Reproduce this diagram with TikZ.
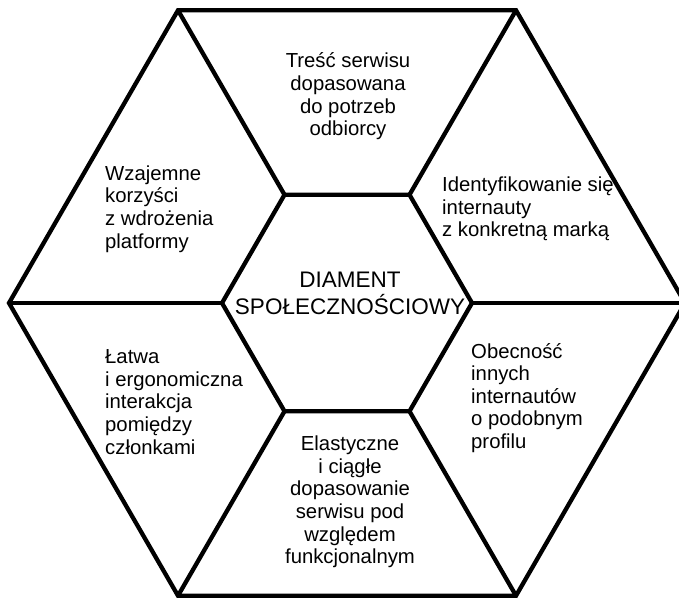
\documentclass[tikz,border=0pt]{standalone}
\usepackage{fontspec}
\setmainfont{Liberation Sans}
\usetikzlibrary{calc, positioning}

\begin{document}
\begin{tikzpicture}[x=1pt,y=-1pt,font=\fontsize{20.3}{22.6}\selectfont,
    hexline/.style={line width=4.3pt,black},
    facet/.style={inner sep=0pt,text=black}]
\def\middlex{347}
\def\middley{303}
\def\outerr{338}
\def\innerr{125}
\pgfmathsetmacro{\outerhalf}{\outerr/2}
\pgfmathsetmacro{\outerh}{\outerr*sin(60)}
\pgfmathsetmacro{\innerhalf}{\innerr/2}
\pgfmathsetmacro{\innerh}{\innerr*sin(60)}
\useasboundingbox (0,0) rectangle (679,600);
\clip (0,0) rectangle (679,600);

\coordinate (OuterLeft) at (\middlex-\outerr,\middley);
\coordinate (OuterTopLeft) at (\middlex-\outerhalf,\middley-\outerh);
\coordinate (OuterTopRight) at (\middlex+\outerhalf,\middley-\outerh);
\coordinate (OuterRight) at (\middlex+\outerr,\middley);
\coordinate (OuterBottomRight) at (\middlex+\outerhalf,\middley+\outerh);
\coordinate (OuterBottomLeft) at (\middlex-\outerhalf,\middley+\outerh);

\coordinate (InnerLeft) at (\middlex-\innerr,\middley);
\coordinate (InnerTopLeft) at (\middlex-\innerhalf,\middley-\innerh);
\coordinate (InnerTopRight) at (\middlex+\innerhalf,\middley-\innerh);
\coordinate (InnerRight) at (\middlex+\innerr,\middley);
\coordinate (InnerBottomRight) at (\middlex+\innerhalf,\middley+\innerh);
\coordinate (InnerBottomLeft) at (\middlex-\innerhalf,\middley+\innerh);

\draw[hexline] (OuterLeft) -- (OuterTopLeft) -- (OuterTopRight)
    -- (OuterRight) -- (OuterBottomRight) -- (OuterBottomLeft) -- cycle;
\draw[hexline] (InnerLeft) -- (InnerTopLeft) -- (InnerTopRight)
    -- (InnerRight) -- (InnerBottomRight) -- (InnerBottomLeft) -- cycle;

\draw[hexline] (InnerLeft) -- (OuterLeft);
\draw[hexline] (InnerTopLeft) -- (OuterTopLeft);
\draw[hexline] (InnerTopRight) -- (OuterTopRight);
\draw[hexline] (InnerRight) -- (OuterRight);
\draw[hexline] (InnerBottomRight) -- (OuterBottomRight);
\draw[hexline] (InnerBottomLeft) -- (OuterBottomLeft);

\node[facet,align=center,font=\fontsize{22.5}{27}\selectfont] (Diamond)
    at (350,293) {DIAMENT\\SPOŁECZNOŚCIOWY};

\node[facet,align=center] (Content) at (348,96.5)
    {Treść serwisu\\dopasowana\\do potrzeb\\odbiorcy};
\node[facet,align=left,anchor=west] (Benefits) at (105,209)
    {Wzajemne\\korzyści\\z wdrożenia\\platformy};
\node[facet,align=left,anchor=west] (Identity) at (442,209)
    {Identyfikowanie się\\internauty\\z konkretną marką};
\node[facet,align=left,anchor=west] (Interaction) at (105,402)
    {Łatwa\\i ergonomiczna\\interakcja\\pomiędzy\\członkami};
\node[facet,align=left,anchor=west] (Presence) at (471,398)
    {Obecność\\innych\\internautów\\o podobnym\\profilu};
\node[facet,align=center] (Flexibility) at (350,502)
    {Elastyczne\\i ciągłe\\dopasowanie\\serwisu pod\\względem\\funkcjonalnym};
\end{tikzpicture}
\end{document}
